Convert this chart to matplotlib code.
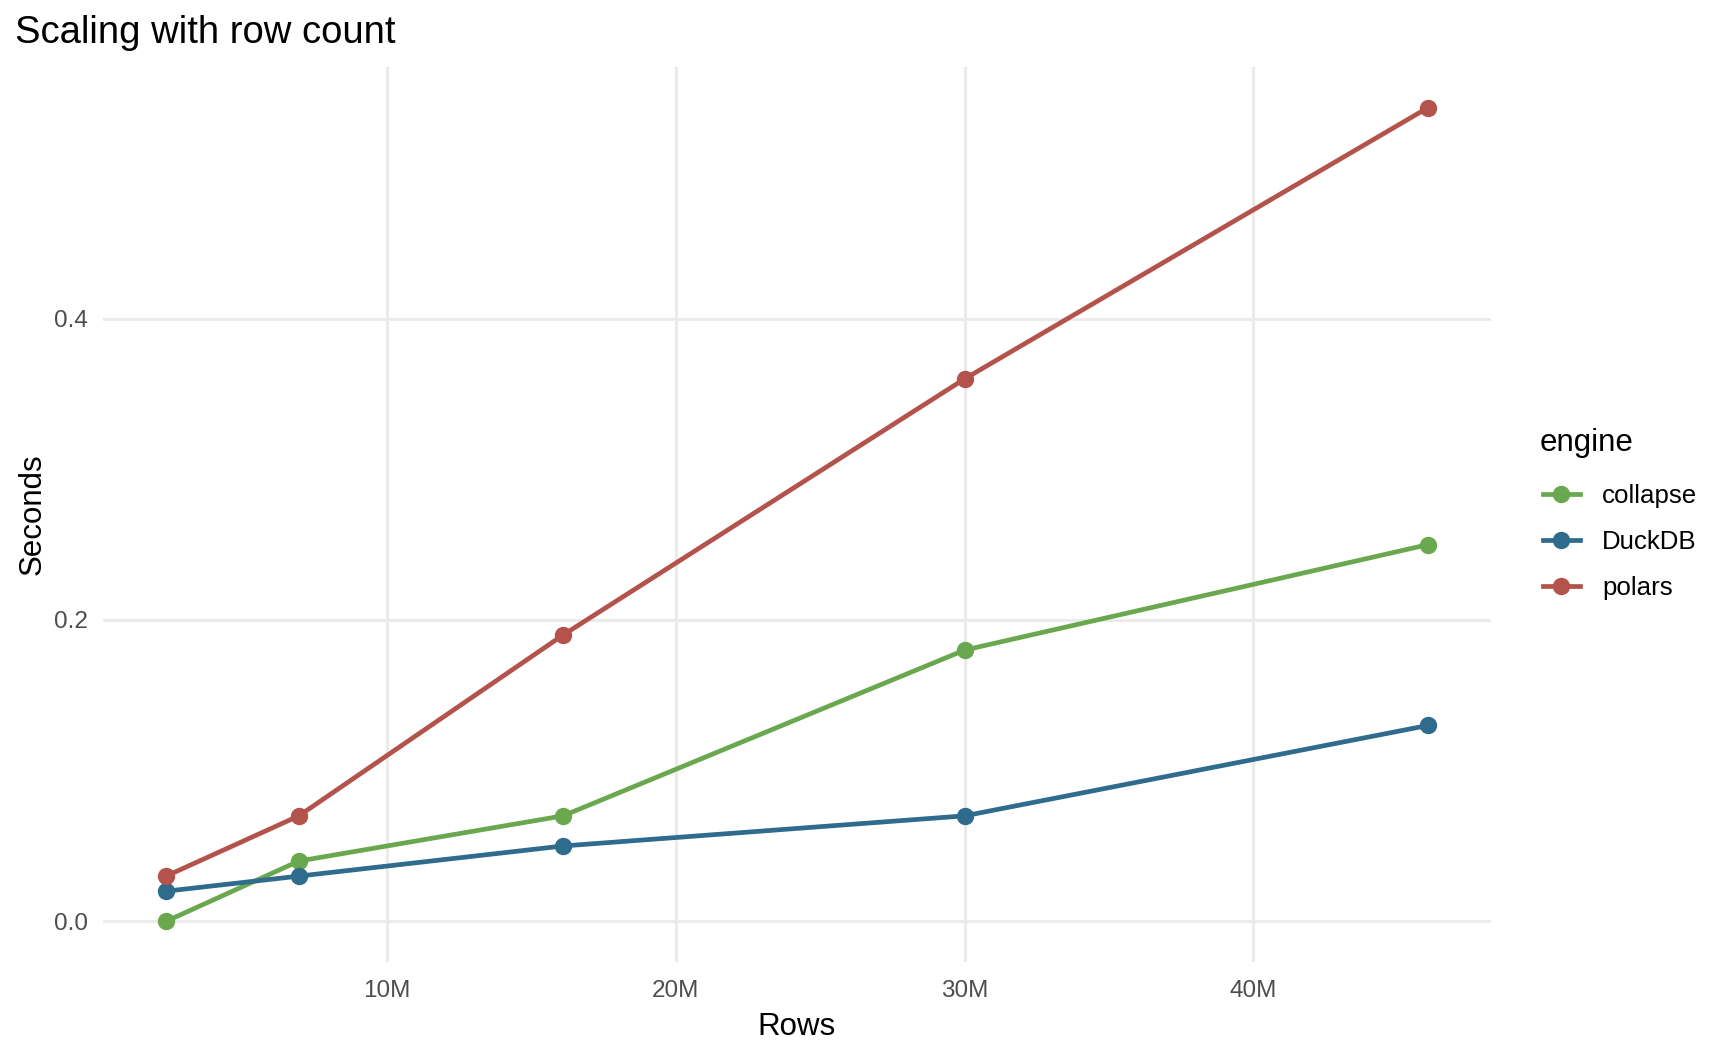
import matplotlib
matplotlib.use("Agg")
import matplotlib.pyplot as plt
from matplotlib.ticker import FixedLocator, FixedFormatter

plt.rcParams['font.family'] = ['Liberation Sans', 'DejaVu Sans']

# data
rows = [2_340_000, 6_940_000, 16_090_000, 30_000_000, 46_050_000]
engines = ["collapse", "DuckDB", "polars"]
seconds_collapse = [0.00, 0.04, 0.07, 0.18, 0.25]
seconds_duckdb = [0.02, 0.03, 0.05, 0.07, 0.13]
seconds_polars = [0.03, 0.07, 0.19, 0.36, 0.54]
x_ticks = [10_000_000, 20_000_000, 30_000_000, 40_000_000]
x_tick_labels = ["10M", "20M", "30M", "40M"]
y_ticks = [0.0, 0.2, 0.4]
y_tick_labels = ["0.0", "0.2", "0.4"]

colors = {"collapse": "#6aa84f", "DuckDB": "#2e6b8c", "polars": "#b3534b"}
series = {"collapse": seconds_collapse, "DuckDB": seconds_duckdb, "polars": seconds_polars}

W, H = 1728, 1056
fig = plt.figure(figsize=(W / 100, H / 100), dpi=100)
# panel placement in pixels: left 103, right 1491, top 67, bottom 962
left, right, top, bottom = 103, 1491, 67, 962
ax = fig.add_axes([left / W, 1 - bottom / H, (right - left) / W, (bottom - top) / H])

for name in engines:
    ax.plot(rows, series[name], color=colors[name], linewidth=3.4,
            marker='o', markersize=11.5, label=name)

# ggplot-like 5% expansion
xmin, xmax = min(rows), max(rows)
xpad = (xmax - xmin) * 0.05
ax.set_xlim(xmin - xpad, xmax + xpad)
all_y = seconds_collapse + seconds_duckdb + seconds_polars
ymin, ymax = min(all_y), max(all_y)
ypad = (ymax - ymin) * 0.05
ax.set_ylim(ymin - ypad, ymax + ypad)

ax.xaxis.set_major_locator(FixedLocator(x_ticks))
ax.xaxis.set_major_formatter(FixedFormatter(x_tick_labels))
ax.yaxis.set_major_locator(FixedLocator(y_ticks))
ax.yaxis.set_major_formatter(FixedFormatter(y_tick_labels))

ax.grid(True, color='#ebebeb', linewidth=2.2)
ax.set_axisbelow(True)
for spine in ax.spines.values():
    spine.set_visible(False)
ax.tick_params(axis='both', length=0, labelsize=17.5, labelcolor='#4d4d4d')
ax.tick_params(axis='x', pad=13)
ax.tick_params(axis='y', pad=11)

ax.set_xlabel("Rows", fontsize=22.5, va='baseline')
ax.xaxis.set_label_coords(0.5, -(1035 - bottom) / (bottom - top))
ax.set_ylabel("Seconds", fontsize=22.5, va='baseline')
ax.yaxis.set_label_coords(-(left - 40.7) / (right - left), 0.5)

fig.text(15 / W, 1 - 43 / H, "Scaling with row count", fontsize=27.5,
         va='baseline', ha='left')

# legend title drawn separately so its gap to the keys can match
fig.text(1540 / W, 1 - 450.7 / H, "engine", fontsize=22.5,
         va='baseline', ha='left')
leg = fig.legend(loc='center left', bbox_to_anchor=(1543 / W, 1 - 542 / H),
                 frameon=False, fontsize=18.6, borderpad=0,
                 borderaxespad=0, handlelength=1.43, handletextpad=0.85,
                 labelspacing=0.85)

fig.savefig("out.png", dpi=100, facecolor='white')
